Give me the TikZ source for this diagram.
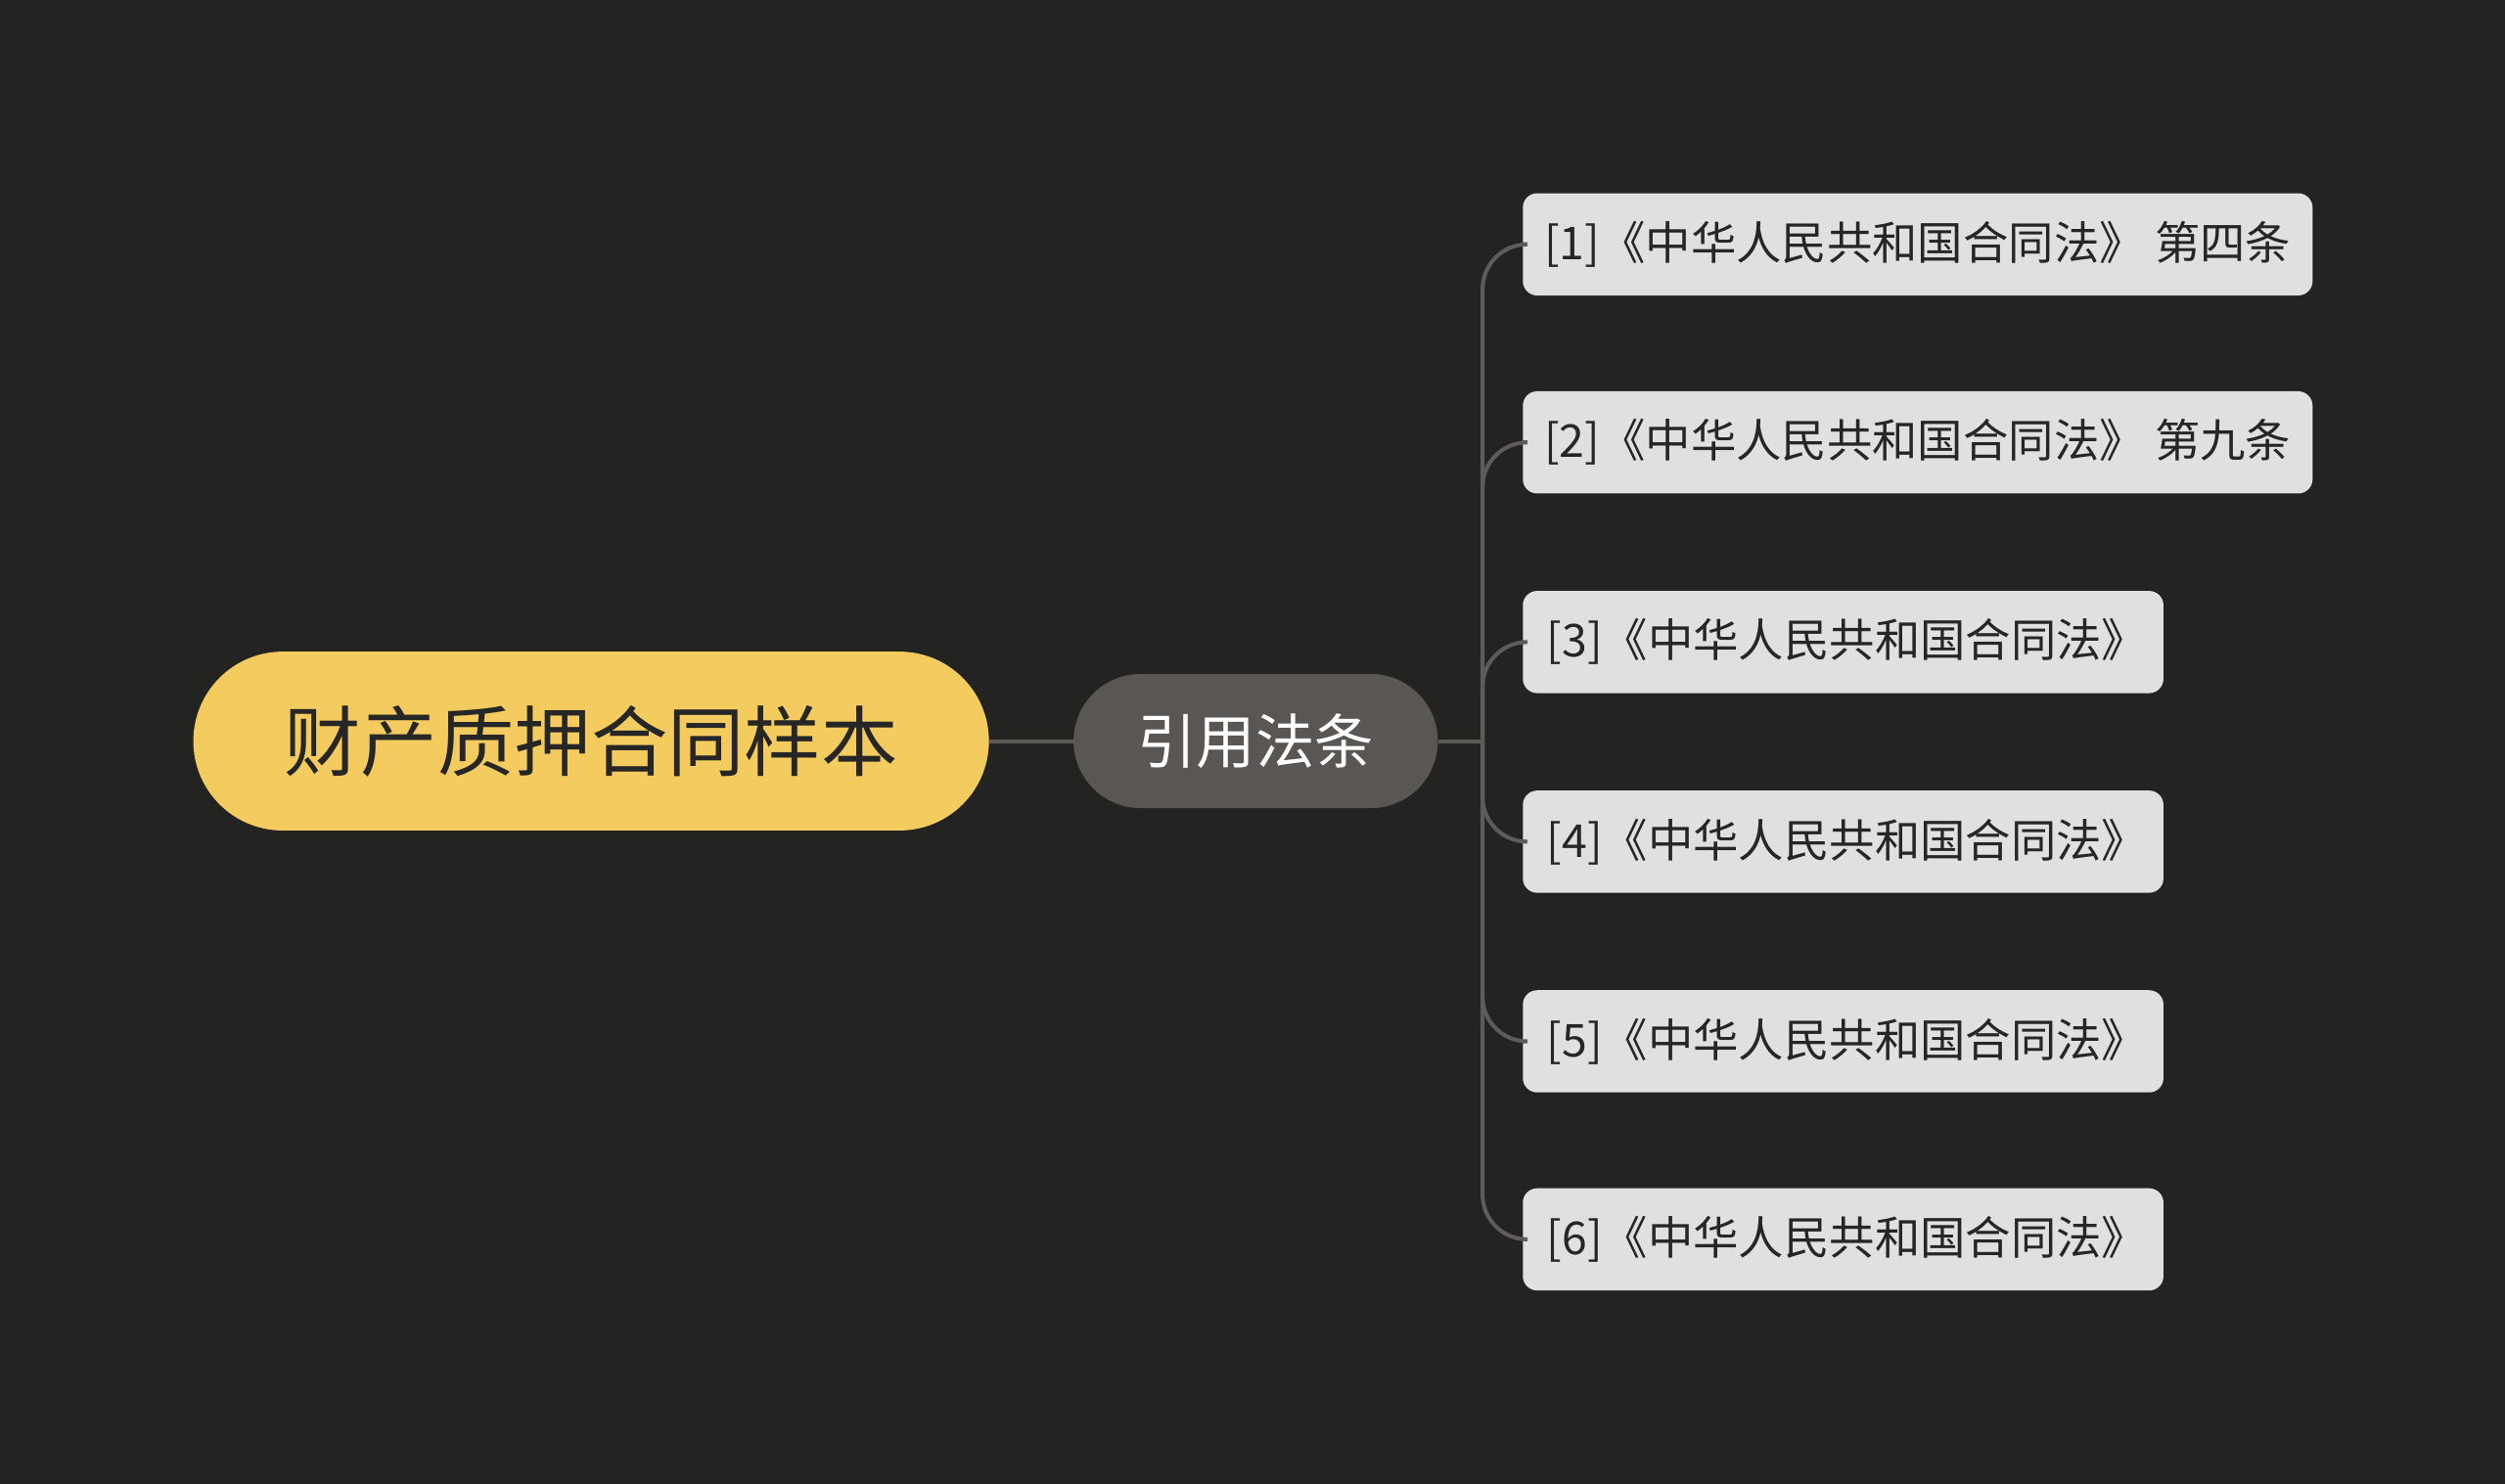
\documentclass[tikz,border=0pt]{standalone}
\usepackage{fontspec}
\setmainfont{Noto Sans CJK SC}
\definecolor{bg}{HTML}{232322}
\definecolor{rootc}{HTML}{F3CB5E}
\definecolor{midc}{HTML}{5A5654}
\definecolor{leafc}{HTML}{E0E0DE}
\definecolor{linec}{HTML}{5E5B59}
\begin{document}
\begin{tikzpicture}[x=1pt,y=1pt,
  rootbox/.style={fill=rootc,rounded corners=56pt,minimum width=498pt,minimum height=112pt,text=black!85,font=\fontsize{48}{48}\selectfont},
  midbox/.style={fill=midc,rounded corners=42pt,minimum width=228pt,minimum height=84pt,text=white,font=\fontsize{37}{37}\selectfont},
  leafbox/.style={fill=leafc,rounded corners=9pt,minimum height=64pt,anchor=west,text=black!85,font=\fontsize{28.4}{28.4}\selectfont,inner xsep=15pt},
  longleaf/.style={leafbox,inner xsep=13.5pt},
  shortleaf/.style={leafbox,text width=371pt,align=left},
  conn/.style={draw=linec,line width=2.5pt}]
\fill[bg] (0,0) rectangle (1568,929);
\useasboundingbox (0,0) rectangle (1568,929);
\node[rootbox] (root) at (370,465) {财产质押合同样本};
\node[midbox] (mid) at (786,465) {引用法条};
\coordinate (j) at (928,465);
\node[longleaf] (l1) at (953,776) {[1]《中华人民共和国合同法》 第四条};
\node[longleaf] (l2) at (953,652) {[2]《中华人民共和国合同法》 第九条};
\node[shortleaf] (l3) at (953,527) {[3]《中华人民共和国合同法》};
\node[shortleaf] (l4) at (953,402) {[4]《中华人民共和国合同法》};
\node[shortleaf] (l5) at (953,277) {[5]《中华人民共和国合同法》};
\node[shortleaf] (l6) at (953,153) {[6]《中华人民共和国合同法》};
\draw[conn] (root.east) -- (mid.west);
\draw[conn] (mid.east) -- (j);
\foreach \n in {l1,l2,l3,l4,l5,l6}{
  \draw[conn,rounded corners=28pt] (j) |- (\n.west);
}
\end{tikzpicture}
\end{document}
